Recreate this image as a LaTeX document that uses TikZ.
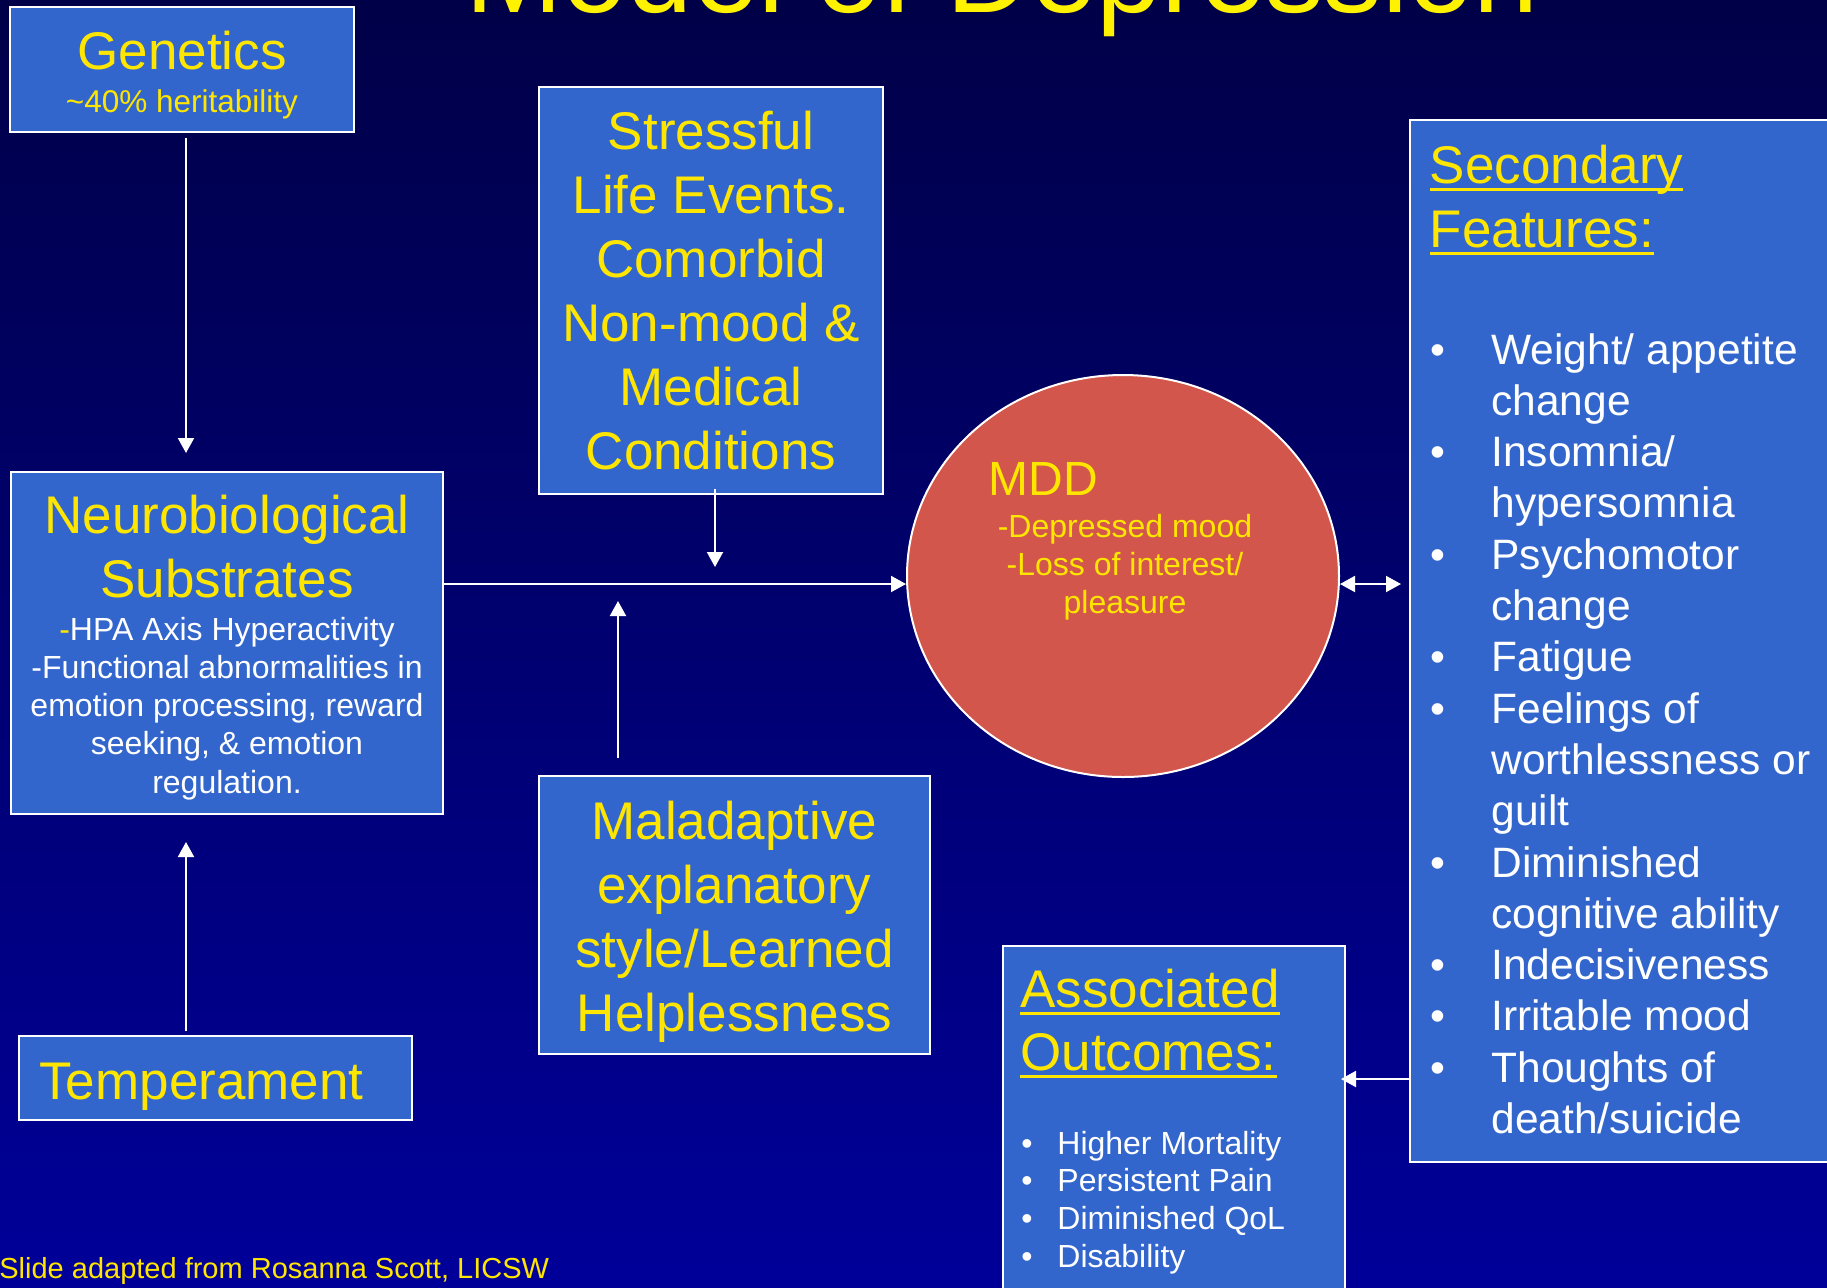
\documentclass[tikz,border=0pt]{standalone}
\usepackage{fontspec}
\setmainfont{Liberation Sans}
\usetikzlibrary{arrows.meta,shapes.geometric}
\definecolor{boxblue}{RGB}{51,102,204}
\definecolor{mddred}{RGB}{211,86,76}
\definecolor{txtyellow}{RGB}{255,230,0}
\definecolor{navytop}{RGB}{0,0,72}
\definecolor{navybot}{RGB}{0,0,153}
\newsavebox\ulbox
\newcommand{\ulined}[1]{\sbox\ulbox{#1}\rlap{\rule[-4pt]{\wd\ulbox}{1.5pt}}\usebox\ulbox}
\tikzset{
  panel/.style={rectangle, draw=white, line width=1pt, fill=boxblue, inner sep=0pt},
  lbl/.style={inner sep=0pt, anchor=base},
  headtxt/.style={lbl, text=txtyellow, font=\fontsize{26.5pt}{32pt}\selectfont},
  bodytxt/.style={lbl, text=white, font=\fontsize{16pt}{19.2pt}\selectfont},
  feattxt/.style={lbl, anchor=base west, text=white, font=\fontsize{21.25pt}{25.5pt}\selectfont},
  arr/.style={draw=white, line width=1pt, -{Triangle[length=7.5pt,width=8pt]}},
  dbl/.style={arr, {Triangle[length=7.5pt,width=8pt]}-{Triangle[length=7.5pt,width=8pt]}}
}

\begin{document}
\begin{tikzpicture}[x=0.5pt, y=-0.5pt]
    \useasboundingbox (0,0) rectangle (1827,1287);
    \clip (0,0) rectangle (1827,1287);
    \shade[top color=navytop, bottom color=navybot] (0,0) rectangle (1827,1287);
    \node[lbl, text=yellow, font=\fontsize{58.5pt}{70pt}\selectfont] (title) at (1002,12) {Model of Depression};

    % boxes
    \path
    (182,69.5) node[panel, minimum width=172pt, minimum height=62.5pt] (gen) {}
    (711,290.5) node[panel, minimum width=172pt, minimum height=203.5pt] (stress) {}
    (227,643) node[panel, minimum width=216pt, minimum height=171pt] (neuro) {}
    (734.5,915) node[panel, minimum width=195.5pt, minimum height=139pt] (mal) {}
    (215.5,1078) node[panel, minimum width=196.5pt, minimum height=42pt] (temp) {}
    (1630,641) node[panel, minimum width=220pt, minimum height=521pt] (sec) {}
    (1174,1123) node[panel, minimum width=171pt, minimum height=177pt] (assoc) {}
    (1123,576) node[ellipse, draw=white, line width=1pt, fill=mddred, minimum width=216pt, minimum height=201pt, inner sep=0pt] (mdd) {};

    % connectors
    \coordinate (hl) at ([yshift=-4pt]mdd.west);
    \coordinate (hr) at ([yshift=-4pt]mdd.east);
    \coordinate (oa) at ([yshift=-67pt]assoc.north east);
    \draw[arr, shorten <=2.5pt, shorten >=9pt] ([xshift=2pt]gen.south) -- ([xshift=2pt]gen.south |- neuro.north);
    \draw[arr, shorten <=2pt, shorten >=13.5pt] ([xshift=2pt]gen.south |- temp.north) -- ([xshift=2pt]gen.south |- neuro.south);
    \draw[arr] (neuro.east |- hl) -- (hl);
    \draw[arr, shorten <=-3pt, shorten >=8.5pt] ([xshift=2pt]stress.south) -- ([xshift=2pt]stress.south |- hl);
    \draw[arr, shorten <=8.5pt, shorten >=8.5pt] ([xshift=40pt]mal.north west) -- ([xshift=40pt]mal.north west |- hl);
    \draw[dbl, shorten >=4pt] (hr) -- (hr -| sec.west);
    \draw[arr, shorten >=-2.5pt] (oa -| sec.west) -- (oa);

    % texts
    \node[headtxt] (genT) at (182,69) {Genetics};
    \node[headtxt, font=\fontsize{15.75pt}{19pt}\selectfont] (genS) at (182,112) {\textasciitilde 40\% heritability};
    \foreach \t [count=\i from 0] in {Stressful, Life Events., Comorbid, Non-mood \&, Medical, Conditions}
        \node[headtxt] (stress\i) at (711,149+64*\i) {\t};
    \foreach \t [count=\i from 0] in {Maladaptive, explanatory, {style/Learned}, Helplessness}
        \node[headtxt] (mal\i) at (734.5,839+64*\i) {\t};
    \node[headtxt] (neuroA) at (227,533) {Neurobiological};
    \node[headtxt] (neuroB) at (227,597) {Substrates};
    \foreach \t [count=\i from 0] in {{\textcolor{txtyellow}{-}HPA Axis Hyperactivity}, -Functional abnormalities in, {emotion processing, reward}, {seeking, \& emotion}, regulation.}
        \node[bodytxt] (neurs\i) at (227,640+38.3*\i) {\t};
    \node[headtxt, anchor=base west] (tempT) at (39,1099) {Temperament};

    \node[lbl, anchor=base west, text=txtyellow, font=\fontsize{24pt}{28.8pt}\selectfont] (mddT) at (988,495) {MDD};
    \foreach \t [count=\i from 0] in {-Depressed mood, {-Loss of interest/}, pleasure}
        \node[bodytxt, text=txtyellow] (mdd\i) at (1125,537+38*\i) {\t};

    \node[headtxt, anchor=base west] (secT) at (1429.5,183) {\ulined{Secondary}};
    \node[headtxt, anchor=base west] (secF) at (1429.5,247) {\ulined{Features:}};
    \foreach \t [count=\i from 0] in {{Weight/ appetite}, change, {Insomnia/}, hypersomnia, Psychomotor, change, Fatigue, Feelings of, worthlessness or, guilt, Diminished, cognitive ability, Indecisiveness, Irritable mood, Thoughts of, {death/suicide}}
        \node[feattxt] (feat\i) at (1491,364+51.3*\i) {\t};
    \foreach \i in {0,2,4,6,7,10,12,13,14}
        \node[feattxt, anchor=base] (dot\i) at (1438,364+51.3*\i) {\textbullet};

    \node[headtxt, anchor=base west] (assocT) at (1020,1007) {\ulined{Associated}};
    \node[headtxt, anchor=base west] (assocO) at (1020,1070) {\ulined{Outcomes:}};
    \foreach \t [count=\i from 0] in {Higher Mortality, Persistent Pain, Diminished QoL, Disability}
        \node[bodytxt, anchor=base west] (out\i) at (1057,1154+37.8*\i) {\t};
    \foreach \i in {0,...,3}
        \node[bodytxt, anchor=base] (odot\i) at (1027,1154+37.8*\i) {\textbullet};

    \node[lbl, anchor=base west, text=txtyellow, font=\fontsize{14.5pt}{17.4pt}\selectfont] (credit) at (-1,1278) {Slide adapted from Rosanna Scott, LICSW};
\end{tikzpicture}
\end{document}
